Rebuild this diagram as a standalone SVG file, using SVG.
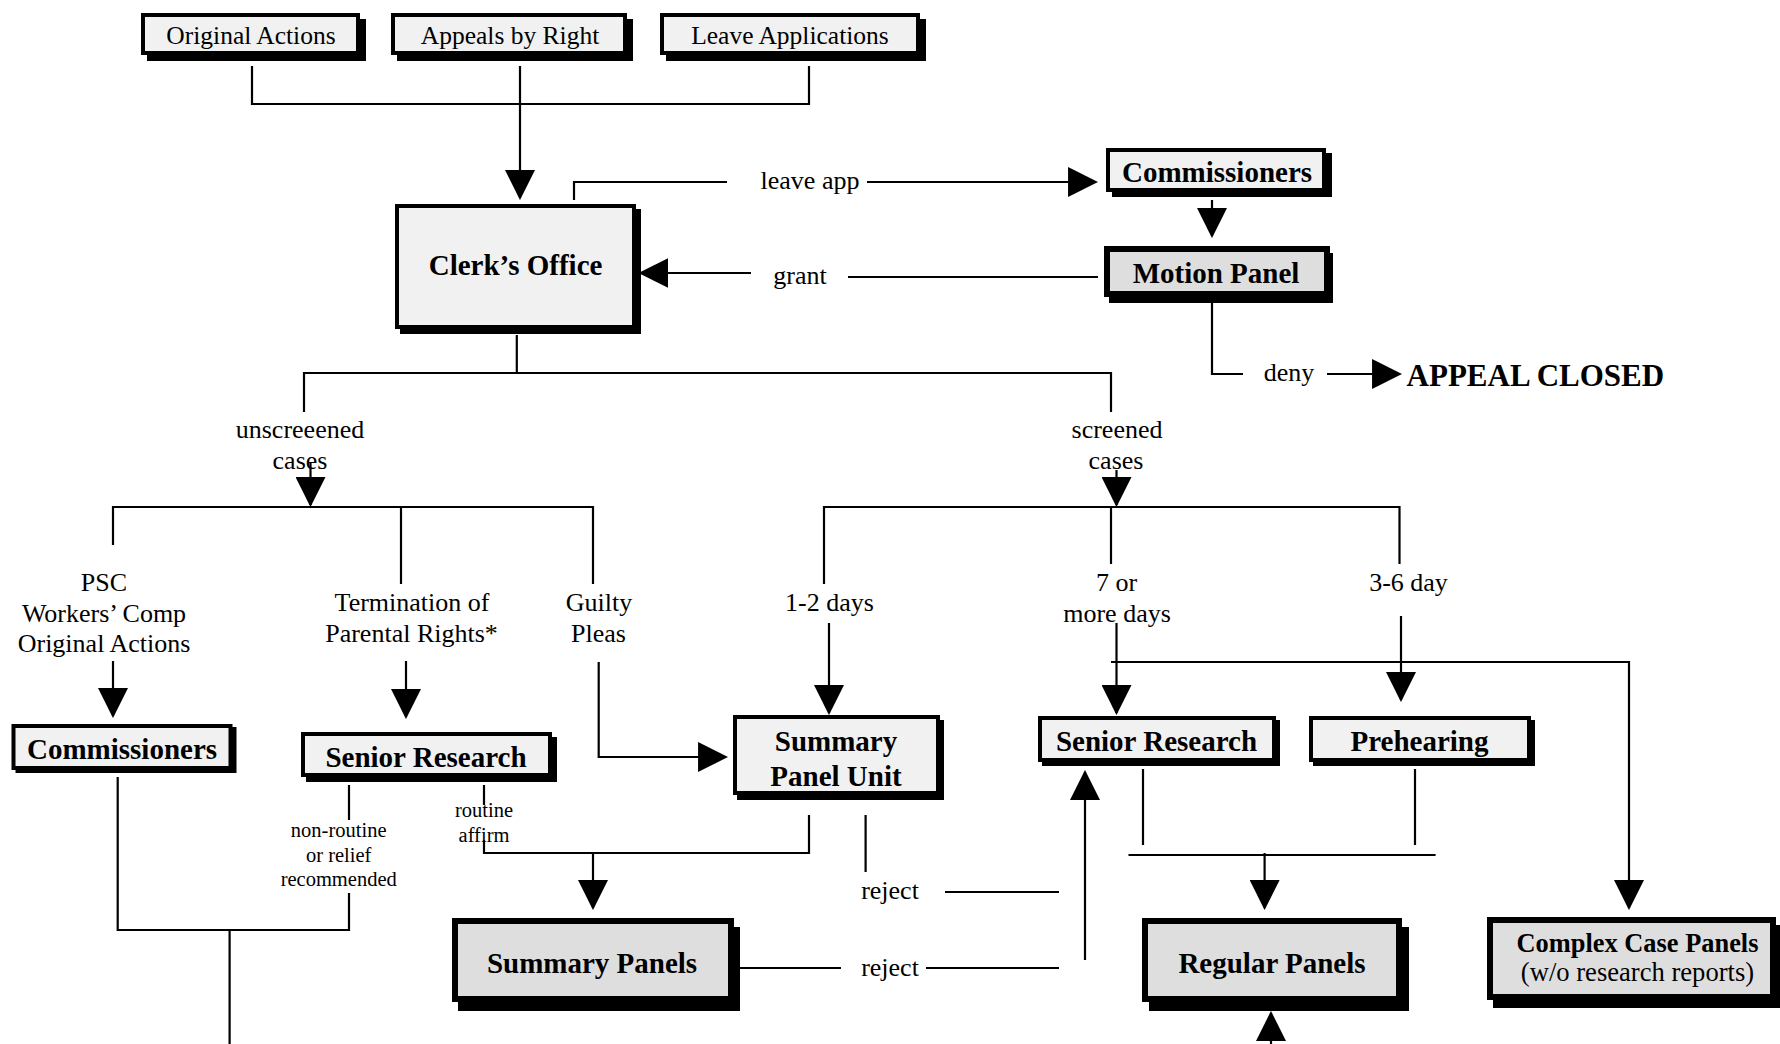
<svg xmlns="http://www.w3.org/2000/svg" width="1780" height="1044" viewBox="0 0 1780 1044">
<style>
text{font-family:"Liberation Serif","Times New Roman",serif;fill:#000;text-anchor:middle}
.r{font-size:26px}
.rs{font-size:25.5px}
.sm{font-size:20.5px}
.b{font-size:29px;font-weight:bold}
.light{fill:#f1f1f1;stroke:#000;stroke-width:4}
.dark{fill:#dedede;stroke:#000;stroke-width:6}
.sh{fill:#000}
.ln{fill:none;stroke:#000;stroke-width:2.2}
.ar{fill:none;stroke:#000;stroke-width:2.2;marker-end:url(#ah)}
</style>
<defs>
<marker id="ah" markerUnits="userSpaceOnUse" markerWidth="30" markerHeight="30" viewBox="0 0 29 29" refX="27" refY="14.5" orient="auto">
<path d="M0,0 L29,14.5 L0,29 z" fill="#000"/>
</marker>
</defs>
<rect width="1780" height="1044" fill="#fff"/>

<g id="connectors">
<path class="ln" d="M252,66 V104 H809 V66"/>
<path class="ar" d="M520,66 V198"/>
<path class="ln" d="M574,200 V182 H727"/>
<path class="ar" d="M867,182 H1096"/>
<path class="ar" d="M1212,200 V236"/>
<path class="ar" d="M751,273 H640.5"/>
<path class="ln" d="M848,277 H1098"/>
<path class="ln" d="M1212,303 V374 H1243"/>
<path class="ar" d="M1327,374 H1400"/>
<path class="ln" d="M516.8,335 V373"/>
<path class="ln" d="M304,412 V373 H1111 V412"/>
<path class="ar" d="M310.5,463 V505"/>
<path class="ar" d="M1116.5,470 V505"/>
<path class="ln" d="M113,545 V507 H593 V584"/>
<path class="ln" d="M401,507 V584"/>
<path class="ln" d="M824,584 V507 H1399.5 V564"/>
<path class="ln" d="M1111,507 V564"/>
<path class="ar" d="M113,661 V716"/>
<path class="ar" d="M406,661 V717"/>
<path class="ar" d="M598.7,662 V757 H726"/>
<path class="ar" d="M829,623 V713"/>
<path class="ar" d="M1116.5,623 V713"/>
<path class="ar" d="M1401,616 V700"/>
<path class="ar" d="M1111,662 H1629 V908"/>
<path class="ln" d="M117.7,777 V930 H349 V893"/>
<path class="ln" d="M349,785 V820"/>
<path class="ln" d="M229.6,930 V1044"/>
<path class="ln" d="M484,785 V805"/>
<path class="ln" d="M484,840 V853 H809 V815"/>
<path class="ar" d="M593,853 V908"/>
<path class="ln" d="M865.6,815 V872"/>
<path class="ln" d="M945,892 H1059"/>
<path class="ln" d="M729,968 H841"/>
<path class="ln" d="M926,968 H1059"/>
<path class="ar" d="M1085,960 V772"/>
<path class="ln" d="M1143,769 V845"/>
<path class="ln" d="M1415,769 V845"/>
<path class="ln" d="M1128.5,855 H1435.6"/>
<path class="ar" d="M1264.6,853 V908"/>
<path class="ar" d="M1271,1044 V1013"/>

<text class="r" x="810" y="189">leave app</text>
<text class="r" x="800" y="284">grant</text>
<text class="r" x="1289" y="381">deny</text>
<text x="1406.6" y="386" style="font-size:31px;font-weight:bold;text-anchor:start">APPEAL CLOSED</text>
<text class="r" x="300" y="438">unscreeened</text>
<text class="r" x="300" y="469">cases</text>
<text class="r" x="1117" y="438">screened</text>
<text class="r" x="1116" y="469">cases</text>
<text class="r" x="104" y="591">PSC</text>
<text class="r" x="104" y="622">Workers’ Comp</text>
<text class="r" x="104" y="652">Original Actions</text>
<text class="r" x="412" y="611">Termination of</text>
<text class="r" x="411.5" y="642">Parental Rights*</text>
<text class="r" x="599" y="611">Guilty</text>
<text class="r" x="598.5" y="642">Pleas</text>
<text class="r" x="829.5" y="611">1-2 days</text>
<text class="r" x="1116.5" y="591">7 or</text>
<text class="r" x="1117" y="622">more days</text>
<text class="r" x="1408.5" y="591">3-6 day</text>
<text class="sm" x="338.7" y="837">non-routine</text>
<text class="sm" x="338.7" y="862">or relief</text>
<text class="sm" x="338.7" y="886">recommended</text>
<text class="sm" x="484" y="817">routine</text>
<text class="sm" x="484" y="842">affirm</text>
<text class="r" x="890" y="899">reject</text>
<text class="r" x="890" y="976">reject</text>
</g>

<g id="n-original-actions">
<rect class="sh" x="147" y="19" width="219" height="42"/>
<rect class="light" x="143" y="15" width="215" height="38"/>
<text class="rs" x="251" y="44">Original Actions</text>
</g>
<g id="n-appeals-by-right">
<rect class="sh" x="397" y="19" width="236" height="42"/>
<rect class="light" x="393" y="15" width="232" height="38"/>
<text class="rs" x="510" y="44">Appeals by Right</text>
</g>
<g id="n-leave-applications">
<rect class="sh" x="666" y="19" width="260" height="42"/>
<rect class="light" x="662" y="15" width="256" height="38"/>
<text class="rs" x="790" y="44">Leave Applications</text>
</g>
<g id="n-clerks-office">
<rect class="sh" x="400" y="209" width="241" height="125"/>
<rect class="light" x="397" y="206" width="237" height="121"/>
<text class="b" x="515.6" y="275">Clerk’s Office</text>
</g>
<g id="n-commissioners-top">
<rect class="sh" x="1112" y="153" width="220" height="44"/>
<rect class="light" x="1108" y="150" width="216" height="40"/>
<text class="b" x="1217" y="182">Commissioners</text>
</g>
<g id="n-motion-panel">
<rect class="sh" x="1109" y="253" width="224" height="50"/>
<rect class="dark" x="1107" y="249" width="220" height="45"/>
<text class="b" x="1216" y="283">Motion Panel</text>
</g>
<g id="n-commissioners-left">
<rect class="sh" x="15.5" y="727" width="221" height="46"/>
<rect class="light" x="13.5" y="726" width="217" height="42"/>
<text class="b" x="122" y="759">Commissioners</text>
</g>
<g id="n-senior-research-left">
<rect class="sh" x="306" y="737" width="251" height="45"/>
<rect class="light" x="303" y="734" width="247" height="41"/>
<text class="b" x="426" y="767">Senior Research</text>
</g>
<g id="n-summary-panel-unit">
<rect class="sh" x="737" y="720" width="207" height="80"/>
<rect class="light" x="735" y="717" width="203" height="76"/>
<text class="b" x="836" y="751">Summary</text>
<text class="b" x="836" y="786">Panel Unit</text>
</g>
<g id="n-senior-research-right">
<rect class="sh" x="1042" y="720" width="238" height="46"/>
<rect class="light" x="1040" y="718" width="234" height="42"/>
<text class="b" x="1156.5" y="751">Senior Research</text>
</g>
<g id="n-prehearing">
<rect class="sh" x="1313" y="720" width="222" height="46"/>
<rect class="light" x="1311" y="718" width="218" height="42"/>
<text class="b" x="1419.5" y="751">Prehearing</text>
</g>
<g id="n-summary-panels">
<rect class="sh" x="458" y="927" width="282" height="84"/>
<rect class="dark" x="455" y="921" width="276" height="78"/>
<text class="b" x="592" y="973">Summary Panels</text>
</g>
<g id="n-regular-panels">
<rect class="sh" x="1149" y="927" width="260" height="84"/>
<rect class="dark" x="1145" y="921" width="254" height="78"/>
<text class="b" x="1272" y="973">Regular Panels</text>
</g>
<g id="n-complex-case-panels">
<rect class="sh" x="1493" y="925" width="289" height="83"/>
<rect class="dark" x="1490" y="920" width="283" height="77"/>
<text x="1637.5" y="952" style="font-size:26.4px;font-weight:bold">Complex Case Panels</text>
<text x="1637.5" y="981" style="font-size:26.6px">(w/o research reports)</text>
</g>
</svg>
